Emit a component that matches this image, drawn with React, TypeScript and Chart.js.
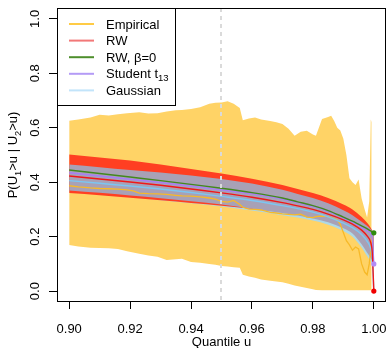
import { useEffect, useRef } from "react";
import { Chart, registerables } from "chart.js";
Chart.register(...registerables);

// ---------- data ----------
const xTicks = [0.9, 0.92, 0.94, 0.96, 0.98, 1.0];
const yTicks = [0, 0.2, 0.4, 0.6, 0.8, 1.0];
const thresholdU = 0.95;

// empirical estimate and its band
const empU = [0.900, 0.903, 0.907, 0.910, 0.913, 0.916, 0.919, 0.921, 0.923, 0.926, 0.929, 0.932, 0.935, 0.937, 0.940, 0.943, 0.946, 0.948, 0.950, 0.952, 0.954, 0.956, 0.957, 0.959, 0.961, 0.963, 0.966, 0.968, 0.970, 0.972, 0.974, 0.976, 0.978, 0.980, 0.981, 0.983, 0.985, 0.986, 0.987, 0.988, 0.989, 0.990, 0.991, 0.992, 0.993, 0.994, 0.995, 0.996, 0.997, 0.9978, 0.9985, 0.9990, 0.9993];
const empUpper = [0.626, 0.630, 0.638, 0.648, 0.645, 0.650, 0.653, 0.655, 0.657, 0.652, 0.653, 0.660, 0.664, 0.665, 0.669, 0.675, 0.688, 0.692, 0.693, 0.697, 0.688, 0.673, 0.628, 0.634, 0.638, 0.630, 0.625, 0.620, 0.614, 0.596, 0.571, 0.585, 0.589, 0.575, 0.571, 0.632, 0.640, 0.644, 0.625, 0.600, 0.590, 0.560, 0.500, 0.415, 0.400, 0.390, 0.410, 0.340, 0.300, 0.270, 0.330, 0.630, 0.620];
const empLower = [0.169, 0.164, 0.159, 0.158, 0.157, 0.155, 0.146, 0.142, 0.137, 0.131, 0.126, 0.114, 0.117, 0.119, 0.107, 0.104, 0.100, 0.097, 0.092, 0.090, 0.088, 0.086, 0.060, 0.054, 0.049, 0.043, 0.038, 0.035, 0.033, 0.027, 0.021, 0.016, 0.011, 0.007, 0.004, 0.003, 0.003, 0.003, 0.003, 0.003, 0.003, 0.003, 0.003, 0.003, 0.003, 0.003, 0.003, 0.003, 0.003, 0.003, 0.003, 0.003, 0.003];
const empMid = [0.387, 0.383, 0.379, 0.377, 0.376, 0.375, 0.372, 0.368, 0.360, 0.358, 0.357, 0.355, 0.352, 0.350, 0.349, 0.346, 0.342, 0.338, 0.330, 0.327, 0.333, 0.318, 0.308, 0.301, 0.300, 0.298, 0.289, 0.287, 0.284, 0.282, 0.280, 0.283, 0.272, 0.270, 0.274, 0.276, 0.274, 0.270, 0.266, 0.262, 0.245, 0.215, 0.185, 0.170, 0.150, 0.162, 0.155, 0.100, 0.070, 0.060, 0.100, 0.150, 0.200];

// model curves and bands
const modelU = [0.90, 0.91, 0.92, 0.93, 0.94, 0.95, 0.96, 0.97, 0.975, 0.98, 0.985, 0.99, 0.993, 0.996, 0.998, 0.999, 0.9995, 1.0];
const rwB0Line = [0.445, 0.432, 0.419, 0.406, 0.392, 0.378, 0.362, 0.342, 0.328, 0.314, 0.296, 0.272, 0.257, 0.240, 0.228, 0.221, 0.217, 0.214];
const rwLine = [0.423, 0.412, 0.401, 0.389, 0.375, 0.361, 0.345, 0.325, 0.313, 0.300, 0.283, 0.262, 0.246, 0.224, 0.200, 0.178, 0.140, 0.0];
const studentLine = [0.435, 0.423, 0.411, 0.399, 0.386, 0.372, 0.357, 0.338, 0.325, 0.311, 0.293, 0.269, 0.253, 0.234, 0.220, 0.211, 0.190, 0.10];
const gaussLine = [0.406, 0.396, 0.386, 0.375, 0.362, 0.348, 0.333, 0.314, 0.303, 0.290, 0.273, 0.250, 0.233, 0.208, 0.180, 0.155, 0.120, 0.0];
const rwUpper = [0.502, 0.491, 0.480, 0.465, 0.449, 0.432, 0.413, 0.390, 0.375, 0.360, 0.342, 0.318, 0.300, 0.272, 0.248, 0.232, 0.223, 0.214];
const rwLower = [0.360, 0.352, 0.343, 0.334, 0.324, 0.314, 0.303, 0.292, 0.285, 0.276, 0.263, 0.243, 0.225, 0.190, 0.150, 0.130, 0.115, 0.10];
const studentUpper = [0.465, 0.455, 0.445, 0.436, 0.425, 0.412, 0.395, 0.372, 0.357, 0.342, 0.323, 0.297, 0.279, 0.255, 0.238, 0.227, 0.220, 0.214];
const studentLower = [0.370, 0.361, 0.351, 0.341, 0.330, 0.318, 0.303, 0.287, 0.278, 0.267, 0.253, 0.231, 0.212, 0.172, 0.138, 0.122, 0.112, 0.10];
const gaussUpper = [0.455, 0.445, 0.435, 0.425, 0.413, 0.400, 0.384, 0.362, 0.348, 0.333, 0.315, 0.290, 0.272, 0.249, 0.232, 0.222, 0.216, 0.212];
const gaussLower = [0.364, 0.355, 0.345, 0.334, 0.323, 0.311, 0.296, 0.279, 0.270, 0.259, 0.244, 0.221, 0.200, 0.160, 0.125, 0.110, 0.104, 0.10];

const legendItems = [
  { label: "Empirical", color: "#FFCB45" },
  { label: "RW", color: "#F27878" },
  { label: "RW, β=0", color: "#4E8F2C" },
  { label: "Student t", sub: "13", color: "#B49BF6" },
  { label: "Gaussian", color: "#C2E4FA" },
];

const FONT = '"Liberation Sans", Arial, Helvetica, sans-serif';
const TRANSPARENT = "rgba(0,0,0,0)";

const pts = (xs: number[], ys: number[]) => xs.map((x, i) => ({ x, y: ys[i] }));

function drawRich(ctx: CanvasRenderingContext2D, parts: { t: string; sub?: boolean }[], x: number, y: number, size: number) {
  const subSize = size * 0.72;
  let total = 0;
  const widths = parts.map((p) => {
    ctx.font = `${p.sub ? subSize : size}px ${FONT}`;
    const w = ctx.measureText(p.t).width;
    total += w;
    return w;
  });
  let cx = x - total / 2;
  parts.forEach((p, i) => {
    ctx.font = `${p.sub ? subSize : size}px ${FONT}`;
    ctx.textAlign = "left";
    ctx.textBaseline = "alphabetic";
    ctx.fillText(p.t, cx, y + (p.sub ? size * 0.28 : 0));
    cx += widths[i];
  });
}

const decorPlugin = {
  id: "decor",
  afterDatasetsDraw(chart: any) {
    const { ctx, chartArea, scales } = chart;
    const x = Math.round(scales.x.getPixelForValue(thresholdU));
    ctx.save();
    ctx.strokeStyle = "#DADADA";
    ctx.lineWidth = 2;
    ctx.setLineDash([4, 4]);
    ctx.beginPath();
    ctx.moveTo(x, chartArea.top);
    ctx.lineTo(x, chartArea.bottom);
    ctx.stroke();
    ctx.restore();
  },
  afterDraw(chart: any) {
    const { ctx, chartArea, scales } = chart;
    ctx.save();
    // frame
    ctx.strokeStyle = "#000";
    ctx.lineWidth = 1;
    ctx.setLineDash([]);
    ctx.strokeRect(chartArea.left + 0.5, chartArea.top + 0.5, chartArea.right - chartArea.left - 1, chartArea.bottom - chartArea.top - 1);

    ctx.fillStyle = "#000";
    // x tick labels
    ctx.font = `13px ${FONT}`;
    ctx.textAlign = "center";
    ctx.textBaseline = "alphabetic";
    xTicks.forEach((v) => {
      ctx.fillText(v.toFixed(2), scales.x.getPixelForValue(v), 332.5);
    });
    // x title
    ctx.fillText("Quantile u", (chartArea.left + chartArea.right) / 2, 346);
    // y tick labels (rotated)
    yTicks.forEach((v) => {
      const py = scales.y.getPixelForValue(v);
      ctx.save();
      ctx.translate(38.5, py);
      ctx.rotate(-Math.PI / 2);
      ctx.font = `13px ${FONT}`;
      ctx.textAlign = "center";
      ctx.textBaseline = "alphabetic";
      ctx.fillText(v.toFixed(1), 0, 0);
      ctx.restore();
    });
    // y title
    ctx.save();
    ctx.translate(17, (chartArea.top + chartArea.bottom) / 2);
    ctx.rotate(-Math.PI / 2);
    drawRich(ctx, [
      { t: "P(U" }, { t: "1", sub: true }, { t: ">u | U" }, { t: "2", sub: true }, { t: ">u)" },
    ], 0, 0, 13);
    ctx.restore();

    // legend
    const lx = chartArea.left, ly = chartArea.top;
    ctx.fillStyle = "#fff";
    ctx.fillRect(lx, ly, 119, 97);
    ctx.strokeStyle = "#000";
    ctx.lineWidth = 1;
    ctx.strokeRect(lx + 0.5, ly + 0.5, 118, 97);
    legendItems.forEach((it, i) => {
      const base = 28.5 + i * 16.6;
      ctx.strokeStyle = it.color;
      ctx.lineWidth = 2;
      ctx.beginPath();
      ctx.moveTo(69, base - 4.5);
      ctx.lineTo(94, base - 4.5);
      ctx.stroke();
      ctx.fillStyle = "#000";
      ctx.font = `13px ${FONT}`;
      ctx.textAlign = "left";
      ctx.textBaseline = "alphabetic";
      ctx.fillText(it.label, 106, base);
      if (it.sub) {
        const w = ctx.measureText(it.label).width;
        ctx.font = `9.5px ${FONT}`;
        ctx.fillText(it.sub, 106 + w, base + 3);
      }
    });
    ctx.restore();
  },
};

export default function App() {
  const ref = useRef<HTMLCanvasElement>(null);
  useEffect(() => {
    const canvas = ref.current!;
    const band = (xs: number[], ys: number[], color: string | false, target: number | false, order: number, mono: boolean) => ({
      data: pts(xs, ys),
      borderColor: TRANSPARENT,
      borderWidth: 0,
      pointRadius: 0,
      backgroundColor: color || TRANSPARENT,
      fill: target === false ? false : { target },
      order,
      cubicInterpolationMode: mono ? "monotone" : "default",
      tension: 0,
    });
    const line = (ys: number[], color: string, order: number, width = 1.4) => ({
      data: pts(modelU, ys),
      borderColor: color,
      borderWidth: width,
      pointRadius: 0,
      fill: false,
      order,
      cubicInterpolationMode: "monotone",
    });
    const endPoint = (ys: number[], color: string) => ({
      data: [{ x: modelU[modelU.length - 1], y: ys[ys.length - 1] }],
      showLine: false,
      pointRadius: 2.6,
      pointBackgroundColor: color,
      pointBorderColor: color,
      pointBorderWidth: 0,
      order: 1,
    });
    const chart = new Chart(canvas, {
      type: "line",
      data: {
        datasets: [
          band(empU, empUpper, "#FFD366", 1, 100, false), // 0
          band(empU, empLower, false, false, 101, false), // 1
          band(modelU, gaussUpper, "#ADD8E6", 3, 90, true), // 2
          band(modelU, gaussLower, false, false, 91, true), // 3
          band(modelU, rwUpper, "#FF3F22", 5, 80, true), // 4
          band(modelU, rwLower, false, false, 81, true), // 5
          band(modelU, studentUpper, "#A8A1B6", 7, 70, true), // 6
          band(modelU, studentLower, false, false, 71, true), // 7
          {
            data: pts(empU, empMid),
            borderColor: "#F7B928",
            borderWidth: 1.3,
            pointRadius: 0,
            fill: false,
            order: 60,
            tension: 0,
          },
          line(gaussLine, "#7CC6F2", 50),
          line(studentLine, "#A77EF6", 44),
          line(rwB0Line, "#43881E", 42),
          line(rwLine, "#F01818", 40),
          endPoint(rwB0Line, "#2E8B0E"),
          endPoint(studentLine, "#B28CF7"),
          endPoint(rwLine, "#F00000"),
        ] as any,
      },
      options: {
        animation: false,
        responsive: false,
        events: [],
        layout: { padding: { left: 0, right: 3, top: 8, bottom: 0 } },
        plugins: {
          legend: { display: false },
          tooltip: { enabled: false },
          filler: { propagate: false, drawTime: "beforeDatasetDraw" },
        },
        scales: {
          x: {
            type: "linear",
            min: 0.896,
            max: 1.004,
            afterBuildTicks: (s: any) => {
              s.ticks = xTicks.map((v) => ({ value: v }));
            },
            afterFit: (s: any) => {
              s.height = 46;
            },
            ticks: { display: false },
            grid: { display: true, drawOnChartArea: false, drawTicks: true, tickLength: 7, tickColor: "#000", color: "#000", lineWidth: 1 },
            border: { display: false },
          },
          y: {
            type: "linear",
            min: -0.04,
            max: 1.04,
            afterBuildTicks: (s: any) => {
              s.ticks = yTicks.map((v) => ({ value: v }));
            },
            afterFit: (s: any) => {
              s.width = 57;
            },
            ticks: { display: false },
            grid: { display: true, drawOnChartArea: false, drawTicks: true, tickLength: 8, tickColor: "#000", color: "#000", lineWidth: 1 },
            border: { display: false },
          },
        },
      } as any,
      plugins: [decorPlugin],
    });
    return () => chart.destroy();
  }, []);
  return (
    <div style={{ position: "absolute", left: 0, top: 0, width: 390, height: 348, background: "#fff" }}>
      <canvas ref={ref} width={390} height={348} style={{ display: "block", width: 390, height: 348 }} />
    </div>
  );
}
